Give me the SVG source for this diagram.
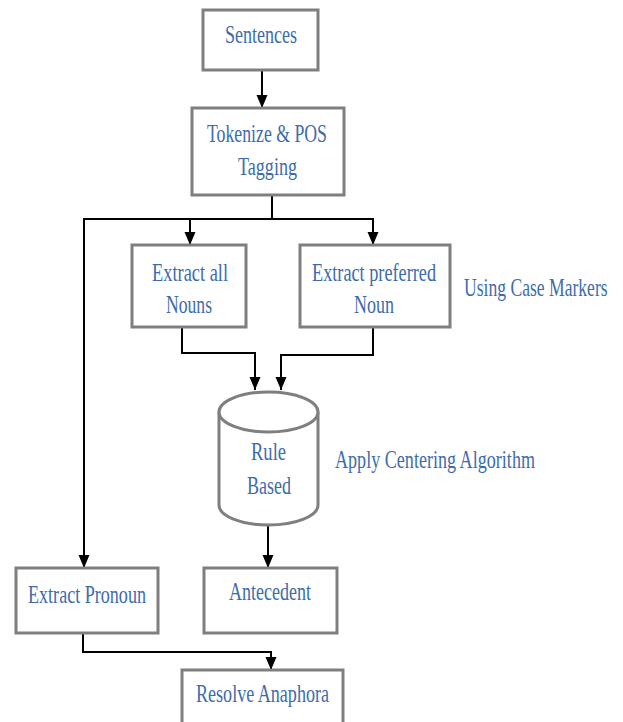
<svg xmlns="http://www.w3.org/2000/svg" width="623" height="722" viewBox="0 0 623 722">
<defs>
<marker id="arr" markerUnits="userSpaceOnUse" markerWidth="14" markerHeight="12" refX="13" refY="5.5" orient="auto" viewBox="0 0 14 11">
<path d="M0,0 L13,5.5 L0,11 Z" fill="#000"/>
</marker>
</defs>
<style>
.box{fill:#fff;stroke:#7f7f7f;stroke-width:3}
.t{font-family:"Liberation Serif","Times New Roman",serif;font-size:25px;fill:#3d6cac}
.c{fill:none;stroke:#000;stroke-width:2}
</style>
<rect width="623" height="722" fill="#fff"/>
<g id="connectors">
<path class="c" d="M262,70 V108" marker-end="url(#arr)"/>
<path class="c" d="M272,195 V219 H84 V568" marker-end="url(#arr)"/>
<path class="c" d="M190,219 V245" marker-end="url(#arr)"/>
<path class="c" d="M272,219 H373 V245" marker-end="url(#arr)"/>
<path class="c" d="M182,327 V353 H255 V390" marker-end="url(#arr)"/>
<path class="c" d="M373,327 V355 H281 V390" marker-end="url(#arr)"/>
<path class="c" d="M268,526 V568" marker-end="url(#arr)"/>
<path class="c" d="M83,633 V652 H271 V670" marker-end="url(#arr)"/>
</g>
<g id="sentences">
<rect class="box" x="203" y="10" width="115" height="60"/>
<text class="t" x="225" y="43" textLength="72" lengthAdjust="spacingAndGlyphs">Sentences</text>
</g>
<g id="tokenize">
<rect class="box" x="192" y="108" width="152" height="87"/>
<text class="t" x="207" y="142" textLength="120" lengthAdjust="spacingAndGlyphs">Tokenize &amp; POS</text>
<text class="t" x="238" y="175" textLength="59" lengthAdjust="spacingAndGlyphs">Tagging</text>
</g>
<g id="extract-nouns">
<rect class="box" x="132" y="245" width="114" height="82"/>
<text class="t" x="152" y="281" textLength="76" lengthAdjust="spacingAndGlyphs">Extract all</text>
<text class="t" x="166" y="313" textLength="46" lengthAdjust="spacingAndGlyphs">Nouns</text>
</g>
<g id="extract-preferred">
<rect class="box" x="300" y="245" width="150" height="82"/>
<text class="t" x="312" y="281" textLength="124" lengthAdjust="spacingAndGlyphs">Extract preferred</text>
<text class="t" x="354" y="313" textLength="40" lengthAdjust="spacingAndGlyphs">Noun</text>
</g>
<g id="case-markers">
<text class="t" transform="translate(464,296) scale(0.76,1)" x="0" y="0" textLength="189" lengthAdjust="spacingAndGlyphs">Using Case Markers</text>
</g>
<g id="rule-based">
<path class="box" d="M219,412 V505 A49.5,20 0 0 0 318,505 V412"/>
<ellipse class="box" cx="268.5" cy="412" rx="49.5" ry="20"/>
<text class="t" x="251" y="460" textLength="35" lengthAdjust="spacingAndGlyphs">Rule</text>
<text class="t" x="247" y="494" textLength="44" lengthAdjust="spacingAndGlyphs">Based</text>
</g>
<g id="centering">
<text class="t" x="335" y="468" textLength="200" lengthAdjust="spacingAndGlyphs">Apply Centering Algorithm</text>
</g>
<g id="extract-pronoun">
<rect class="box" x="16" y="568" width="142" height="65"/>
<text class="t" x="28" y="603" textLength="118" lengthAdjust="spacingAndGlyphs">Extract Pronoun</text>
</g>
<g id="antecedent">
<rect class="box" x="204" y="568" width="133" height="65"/>
<text class="t" x="229" y="600" textLength="82" lengthAdjust="spacingAndGlyphs">Antecedent</text>
</g>
<g id="resolve">
<rect class="box" x="182" y="670" width="161" height="60"/>
<text class="t" x="196" y="702" textLength="133" lengthAdjust="spacingAndGlyphs">Resolve Anaphora</text>
</g>
</svg>
